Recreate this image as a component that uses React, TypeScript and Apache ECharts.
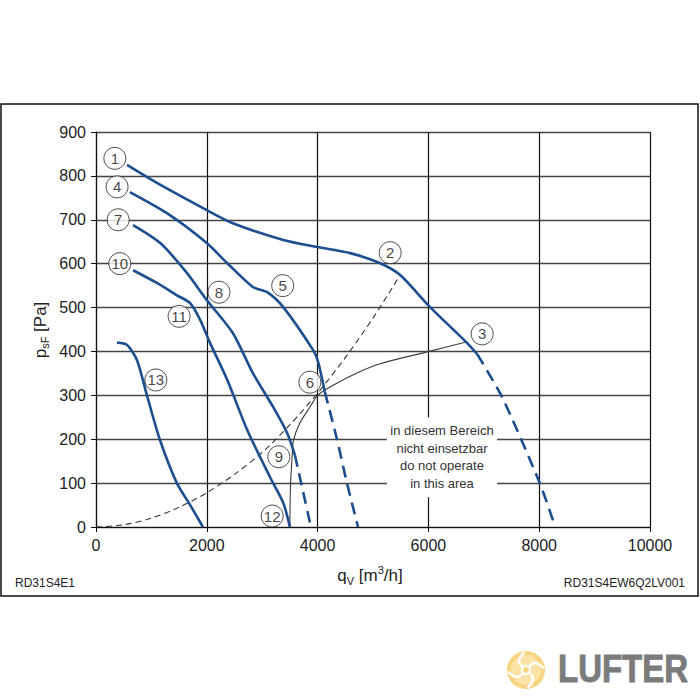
import React, { useEffect, useRef } from "react";
import * as echarts from "echarts";

// Fan curves: [q_V in m³/h, p_sF in Pa]
const curve1Solid = [[560, 825], [1100, 784], [2000, 722], [2470, 692], [3380, 654], [3990, 638], [4590, 624], [5130, 601], [5490, 574], [6030, 501], [6700, 419], [6880, 394]];
const curve1Dashed = [[6880, 394], [7330, 296], [8010, 100], [8290, 0]];
const curve4Solid = [[610, 763], [1280, 715], [2000, 647], [2370, 601], [2830, 547], [3090, 535], [3380, 501], [3920, 403], [4010, 376], [4130, 308]];
const curve4Dashed = [[4130, 308], [4350, 200], [4530, 100], [4730, 0]];
const curve7Solid = [[670, 688], [1160, 647], [1640, 579], [2000, 517], [2470, 442], [2830, 351], [3200, 273], [3450, 214], [3590, 164]];
const curve7Dashed = [[3590, 164], [3880, 0]];
const curve10 = [[670, 585], [1100, 556], [1460, 528], [1700, 510], [1880, 472], [2060, 419], [2370, 335], [2730, 221], [3140, 114], [3380, 55], [3500, 0]];
const curve13 = [[380, 420], [560, 415], [740, 380], [920, 300], [1150, 200], [1460, 100], [1700, 50], [1930, 0]];
// System resistance curve (dashed, thin)
const systemCurve = [[0, 0], [500, 5], [1000, 20], [1500, 45], [2000, 78], [2500, 120], [3000, 170], [3500, 233], [4000, 305], [4500, 386], [5000, 476], [5490, 574]];
// Operating line (thin, solid)
const operatingLine = [[3500, 0], [3510, 90], [3540, 160], [3565, 198], [3680, 237], [3860, 273], [4010, 301], [4280, 323], [4710, 351], [5130, 372], [5975, 399], [6700, 422]];
// Circled point labels
const pointLabels = [[340, 840, "1"], [5310, 625, "2"], [6970, 440, "3"], [380, 775, "4"], [3370, 550, "5"], [3860, 330, "6"], [400, 700, "7"], [2220, 535, "8"], [3300, 160, "9"], [430, 600, "10"], [1500, 480, "11"], [3180, 25, "12"], [1080, 335, "13"]];
// No-operation area (white box) corners and text
const noOpArea = [[5250, 250], [7240, 68]];
const noOpText = ["in diesem Bereich", "nicht einsetzbar", "do not operate", "in this area"];

const xTicks = { min: 0, max: 10000, interval: 2000 };
const yTicks = { min: 0, max: 900, interval: 100 };

const BLUE = "#1d4e8f";
const FONT = "Liberation Sans, Arial, Helvetica, sans-serif";

function blueLine(data: number[][], dashed: boolean) {
  return {
    type: "line",
    data,
    symbol: "none",
    smooth: 0.25,
    silent: true,
    z: 3,
    lineStyle: { color: BLUE, width: 2.6, type: dashed ? [12, 7] : "solid" },
  };
}

function fanBlades() {
  const cx = 526, cy = 670;
  const out: any[] = [];
  for (let i = 0; i < 4; i++) {
    const a = (Math.PI / 2) * i + Math.PI / 4;
    const s = [cx + 5 * Math.cos(a), cy + 5 * Math.sin(a)];
    const e = [cx + 18 * Math.cos(a + 0.7), cy + 18 * Math.sin(a + 0.7)];
    const c = [cx + 14 * Math.cos(a - 0.15), cy + 14 * Math.sin(a - 0.15)];
    out.push({
      type: "bezierCurve",
      shape: { x1: s[0], y1: s[1], x2: e[0], y2: e[1], cpx1: c[0], cpy1: c[1] },
      style: { stroke: "#ffffff", lineWidth: 2.4, fill: "none" },
    });
  }
  return out;
}

export default function App() {
  const ref = useRef<HTMLDivElement>(null);
  useEffect(() => {
    if (!ref.current) return;
    const chart = echarts.init(ref.current, null, { renderer: "svg" });
    chart.setOption({
      animation: false,
      backgroundColor: "#ffffff",
      grid: { left: 96, right: 50, top: 132, bottom: 173, containLabel: false },
      xAxis: {
        type: "value",
        ...xTicks,
        axisLine: { show: true, lineStyle: { color: "#111", width: 1.2 } },
        axisTick: { show: true, length: 5, lineStyle: { color: "#111" } },
        axisLabel: { color: "#222", fontSize: 16, fontFamily: FONT, margin: 10, formatter: (v: number) => String(v) },
        splitLine: { show: true, lineStyle: { color: "#111", width: 1.2 } },
      },
      yAxis: {
        type: "value",
        ...yTicks,
        axisLine: { show: true, lineStyle: { color: "#111", width: 1.2 } },
        axisTick: { show: true, length: 5, lineStyle: { color: "#111" } },
        axisLabel: { color: "#222", fontSize: 16, fontFamily: FONT, margin: 10, formatter: (v: number) => String(v) },
        splitLine: { show: true, lineStyle: { color: "#444", width: 1.4 } },
      },
      series: [
        {
          type: "line",
          data: operatingLine,
          symbol: "none",
          smooth: 0.3,
          silent: true,
          z: 2,
          lineStyle: { color: "#3a3a3a", width: 1.1 },
          markArea: {
            silent: true,
            itemStyle: { color: "#ffffff", opacity: 1 },
            label: {
              show: true,
              position: "inside",
              formatter: noOpText.join("\n"),
              fontSize: 13,
              lineHeight: 17.5,
              color: "#333",
              fontFamily: FONT,
            },
            data: [[{ coord: noOpArea[0] }, { coord: noOpArea[1] }]],
          },
        },
        {
          type: "line",
          data: systemCurve,
          symbol: "none",
          smooth: 0.3,
          silent: true,
          z: 2,
          lineStyle: { color: "#333", width: 1.1, type: [6, 4] },
        },
        blueLine(curve1Solid, false),
        blueLine(curve1Dashed, true),
        blueLine(curve4Solid, false),
        blueLine(curve4Dashed, true),
        blueLine(curve7Solid, false),
        blueLine(curve7Dashed, true),
        blueLine(curve10, false),
        blueLine(curve13, false),
        {
          type: "scatter",
          data: pointLabels,
          symbol: "circle",
          symbolSize: 22,
          silent: true,
          z: 5,
          itemStyle: { color: "#ffffff", borderColor: "#222", borderWidth: 1 },
          label: {
            show: true,
            position: "inside",
            formatter: (p: any) => p.data[2],
            color: "#111",
            fontSize: 15,
            fontFamily: FONT,
          },
        },
      ],
      graphic: [
        {
          type: "rect",
          shape: { x: 1, y: 104, width: 697, height: 492 },
          style: { fill: "none", stroke: "#111", lineWidth: 1.5 },
          silent: true,
        },
        {
          type: "text",
          x: 40,
          y: 330,
          rotation: Math.PI / 2,
          style: {
            text: "{a|p}{s|sF}{a| [Pa]}",
            align: "center",
            verticalAlign: "middle",
            rich: {
              a: { fontSize: 17, fontFamily: FONT, fill: "#222", color: "#222", lineHeight: 20, verticalAlign: "middle" },
              s: { fontSize: 11, fontFamily: FONT, fill: "#222", color: "#222", lineHeight: 20, verticalAlign: "bottom" },
            },
          },
        },
        {
          type: "text",
          x: 370,
          y: 575,
          style: {
            text: "{a|q}{s|V}{a| [m}{p|3}{a|/h]}",
            align: "center",
            verticalAlign: "middle",
            rich: {
              a: { fontSize: 17, fontFamily: FONT, fill: "#222", color: "#222", lineHeight: 22, verticalAlign: "middle" },
              s: { fontSize: 11, fontFamily: FONT, fill: "#222", color: "#222", lineHeight: 22, verticalAlign: "bottom" },
              p: { fontSize: 11, fontFamily: FONT, fill: "#222", color: "#222", lineHeight: 22, verticalAlign: "top" },
            },
          },
        },
        {
          type: "text",
          x: 15,
          y: 583,
          style: { text: "RD31S4E1", fontSize: 12, fontFamily: FONT, fill: "#222", verticalAlign: "middle" },
        },
        {
          type: "text",
          x: 685,
          y: 583,
          style: { text: "RD31S4EW6Q2LV001", fontSize: 12, fontFamily: FONT, fill: "#222", align: "right", verticalAlign: "middle" },
        },
        {
          type: "group",
          children: [
            { type: "circle", shape: { cx: 526, cy: 670, r: 19 }, style: { fill: "#f8d583" } },
            { type: "circle", shape: { cx: 526, cy: 670, r: 15 }, style: { fill: "#fbe3a6" } },
            ...fanBlades(),
            { type: "circle", shape: { cx: 526, cy: 670, r: 4 }, style: { fill: "#f8d583", stroke: "#ffffff", lineWidth: 2 } },
          ],
        },
        {
          type: "text",
          x: 558,
          y: 669,
          scaleY: 1.15,
          style: { text: "LUFTER", font: "bold 33px 'Liberation Sans', Arial, sans-serif", fontWeight: "bold", fontSize: 33, fill: "#7b7b7b", verticalAlign: "middle", stroke: "#7b7b7b", lineWidth: 0.8 },
        },
      ],
    });
    return () => chart.dispose();
  }, []);
  return (
    <div
      ref={ref}
      style={{ position: "fixed", left: 0, top: 0, width: 700, height: 700, background: "#fff" }}
    />
  );
}
